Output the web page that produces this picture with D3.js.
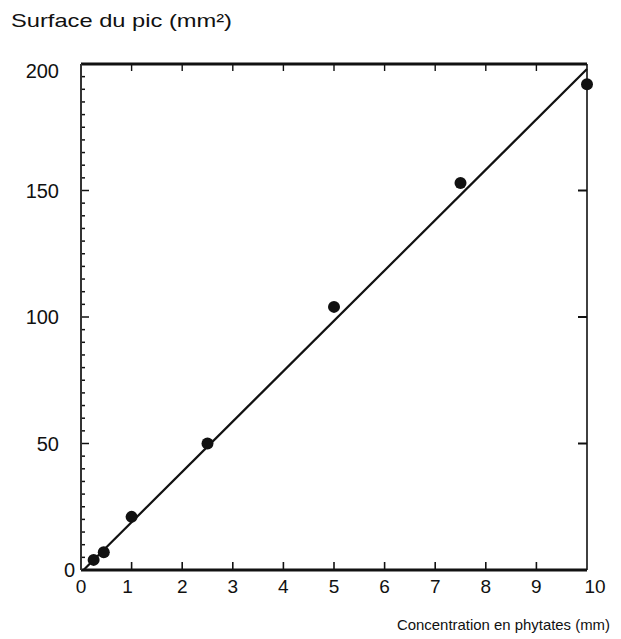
<!DOCTYPE html>
<html>
<head>
<meta charset="utf-8">
<script src="https://cdn.jsdelivr.net/npm/d3@7"></script>
<style>
body { margin: 0; background: #fff; }
text { font-family: "Liberation Sans", Arial, sans-serif; fill: #111; }
</style>
</head>
<body>
<div class="content"></div>
<script>
// concentrations (mm) and peak areas (mm2)
var conc = [0.25, 0.45, 1, 2.5, 5, 7.5, 10];
var surface = [4, 7, 21, 50, 104, 153, 192];
var fitX = [0.05, 10];
var fitY = [0, 198];
var xTicks = [0, 1, 2, 3, 4, 5, 6, 7, 8, 9, 10];
var yTicks = [0, 50, 100, 150, 200];

var svg = d3.select('.content').append('svg')
    .attr('width', 621).attr('height', 639);

var x = d3.scaleLinear().domain([0, 10]).range([81, 587]);
var y = d3.scaleLinear().domain([0, 200]).range([570, 64]);

// inner ticks
var g = svg.append('g').attr('stroke', '#111');
xTicks.slice(1, 10).forEach(function (t) {
    g.append('line').attr('x1', x(t)).attr('x2', x(t))
        .attr('y1', y(0)).attr('y2', y(0) - 8).attr('stroke-width', 1.6);
    g.append('line').attr('x1', x(t)).attr('x2', x(t))
        .attr('y1', y(200)).attr('y2', y(200) + 7).attr('stroke-width', 1.4);
});
d3.range(5, 200, 5).forEach(function (v) {
    g.append('line').attr('x1', x(0)).attr('x2', x(0) + (v % 50 == 0 ? 8 : 4))
        .attr('y1', y(v)).attr('y2', y(v)).attr('stroke-width', 1.5);
});
yTicks.slice(1, 4).forEach(function (v) {
    g.append('line').attr('x1', x(10)).attr('x2', x(10) - 9)
        .attr('y1', y(v)).attr('y2', y(v)).attr('stroke-width', 2);
});

// frame
svg.append('line').attr('x1', x(0)).attr('x2', x(10)).attr('y1', y(200)).attr('y2', y(200))
    .attr('stroke', '#111').attr('stroke-width', 3);
svg.append('line').attr('x1', x(0)).attr('x2', x(10)).attr('y1', y(0)).attr('y2', y(0))
    .attr('stroke', '#111').attr('stroke-width', 3);
svg.append('line').attr('x1', x(0)).attr('x2', x(0)).attr('y1', y(200)).attr('y2', y(0))
    .attr('stroke', '#333').attr('stroke-width', 2);
svg.append('line').attr('x1', x(10)).attr('x2', x(10)).attr('y1', y(200)).attr('y2', y(0))
    .attr('stroke', '#111').attr('stroke-width', 1.6);

// fitted line
svg.append('path')
    .attr('d', d3.line().x(function (d) { return x(d); }).y(function (d, i) { return y(fitY[i]); })(fitX))
    .attr('stroke', '#111').attr('stroke-width', 2.2).attr('fill', 'none');

// points
svg.selectAll('circle.pt').data(conc).enter().append('circle')
    .attr('class', 'pt')
    .attr('cx', function (d) { return x(d); })
    .attr('cy', function (d, i) { return y(surface[i]); })
    .attr('r', 6).attr('fill', '#111');

// tick labels
svg.selectAll('text.xl').data(xTicks).enter().append('text')
    .attr('class', 'xl')
    .attr('x', function (d) { return x(d) + (d == 10 ? 8 : d == 1 ? -4 : 0); })
    .attr('y', 593).attr('text-anchor', 'middle').attr('font-size', 19)
    .text(function (d) { return d; });
svg.selectAll('text.yl').data(yTicks).enter().append('text')
    .attr('class', 'yl')
    .attr('x', function (d) { return d == 0 ? 75 : 59; })
    .attr('y', function (d) { return y(d) + (d == 200 ? 14 : 7); })
    .attr('text-anchor', 'end').attr('font-size', 20)
    .text(function (d) { return d; });

// titles
svg.append('text').attr('x', 11).attr('y', 27).attr('font-size', 19)
    .attr('textLength', 221).attr('lengthAdjust', 'spacingAndGlyphs')
    .text('Surface du pic (mm²)');
svg.append('text').attr('x', 397).attr('y', 630).attr('font-size', 15)
    .attr('textLength', 213).attr('lengthAdjust', 'spacingAndGlyphs')
    .text('Concentration en phytates (mm)');
</script>
</body>
</html>
